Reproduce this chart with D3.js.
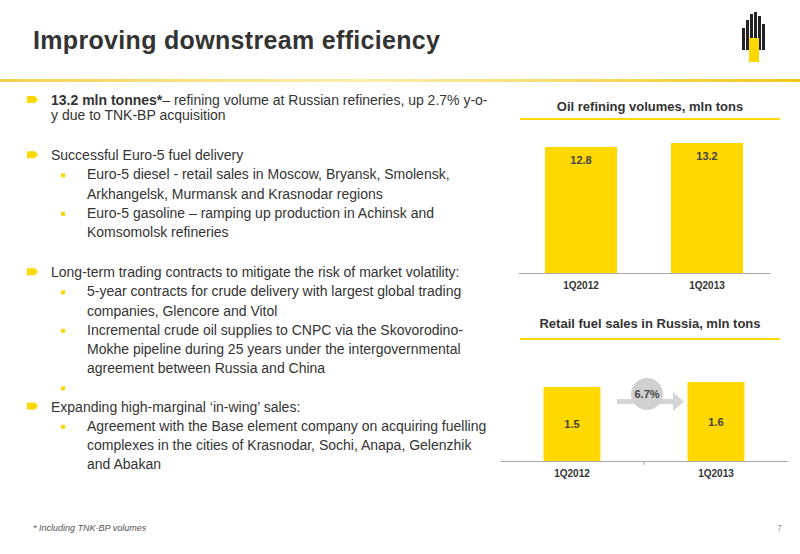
<!DOCTYPE html>
<html><head><meta charset="utf-8">
<script src="https://cdn.jsdelivr.net/npm/d3@7"></script>
<style>body{margin:0;background:#fff}svg{font-family:"Liberation Sans",Arial,sans-serif}</style>
</head><body><svg id="c" width="800" height="554"></svg>
<script>
const refCats = ['1Q2012', '1Q2013']
const refVals = [12.8, 13.2]
const retailCats = ['1Q2012', '1Q2013']
const retailVals = [1.5, 1.6]
const growth = '6.7%'

const bullets = [
  {lvl: 0, lh: 15, lines: [[{t: '13.2 mln tonnes*', b: true}, {t: '– refining volume at Russian refineries, up 2.7% y-o-'}], [{t: 'y due to TNK-BP acquisition'}]]},
  {gap: true},
  {lvl: 0, lines: [[{t: 'Successful Euro-5 fuel delivery'}]]},
  {lvl: 1, lines: [[{t: 'Euro-5 diesel  - retail sales in Moscow, Bryansk, Smolensk,'}], [{t: 'Arkhangelsk, Murmansk and Krasnodar regions'}]]},
  {lvl: 1, lines: [[{t: 'Euro-5 gasoline – ramping up production in Achinsk and'}], [{t: 'Komsomolsk refineries'}]]},
  {gap: true},
  {lvl: 0, lines: [[{t: 'Long-term trading contracts to mitigate the risk of market volatility:'}]]},
  {lvl: 1, lines: [[{t: '5-year contracts for crude delivery with largest global trading'}], [{t: 'companies, Glencore and Vitol'}]]},
  {lvl: 1, lines: [[{t: 'Incremental crude oil supplies to CNPC via the Skovorodino-'}], [{t: 'Mokhe pipeline during 25 years under the intergovernmental'}], [{t: 'agreement between Russia and China'}]]},
  {lvl: 1, lines: [[{t: ''}]]},
  {lvl: 0, lines: [[{t: 'Expanding high-marginal ‘in-wing’ sales:'}]]},
  {lvl: 1, lines: [[{t: 'Agreement with the Base element company on acquiring fuelling'}], [{t: 'complexes in the cities of Krasnodar, Sochi, Anapa, Gelenzhik'}], [{t: 'and Abakan'}]]}
]

const svg = d3.select('#c')
const yellow = '#ffd800'

// header
svg.append('text').attr('x', 33).attr('y', 49).attr('font-size', 25).attr('font-weight', 'bold')
  .attr('fill', '#333').attr('textLength', 407).text('Improving downstream efficiency')
const grad = svg.append('defs').append('linearGradient').attr('id', 'hg')
grad.append('stop').attr('offset', '0').attr('stop-color', '#f3d250')
grad.append('stop').attr('offset', '0.45').attr('stop-color', '#fbeeb0')
grad.append('stop').attr('offset', '1').attr('stop-color', '#f0c81c')
svg.append('rect').attr('x', 0).attr('y', 79).attr('width', 800).attr('height', 3).attr('fill', 'url(#hg)')

// logo
const logo = svg.append('g').attr('transform', 'translate(754,12)')
;[[-12, 16, 22], [-8, 8, 30], [-4, 2, 36], [0, 0, 40], [4, 4, 34], [8, 12, 26]].forEach(([x, y, h]) =>
  logo.append('rect').attr('x', x).attr('y', y).attr('width', 3).attr('height', h).attr('fill', '#222'))
logo.append('rect').attr('x', -5).attr('y', 26).attr('width', 10).attr('height', 24).attr('fill', yellow)

// bullets
let y = 105
bullets.forEach(b => {
  if (b.gap) { y += 21; return }
  b.lines.forEach((ln, i) => {
    const x = b.lvl ? 87 : 51
    if (i === 0) {
      if (b.lvl) svg.append('rect').attr('x', 61).attr('y', y - 6).attr('width', 4).attr('height', 4).attr('fill', yellow)
      else svg.append('path').attr('d', `M27,${y - 9}h8l3,3.5l-3,3.5h-8z`).attr('fill', yellow)
    }
    const t = svg.append('text').attr('x', x).attr('y', y).attr('font-size', 14).attr('fill', '#333')
    ln.forEach(s => t.append('tspan').attr('font-weight', s.b ? 'bold' : null).text(s.t))
    y += (i < b.lines.length - 1 && b.lh) ? b.lh : 19.2
  })
})

svg.append('text').attr('x', 33).attr('y', 531).attr('font-size', 9).attr('font-style', 'italic').attr('fill', '#555').text('* Including TNK-BP volumes')
svg.append('text').attr('x', 777).attr('y', 531).attr('font-size', 9).attr('fill', '#999').text('7')

function barChart(cats, vals, top, base, maxV, title, titleY, lineY, xr, bw, labelY) {
  svg.append('text').attr('x', 650).attr('y', titleY).attr('text-anchor', 'middle').attr('font-size', 13)
    .attr('font-weight', 'bold').attr('fill', '#333').text(title)
  svg.append('rect').attr('x', 520).attr('y', lineY).attr('width', 260).attr('height', 2).attr('fill', yellow)
  const x = d3.scaleBand().domain(cats).range(xr).padding(0)
  const yS = d3.scaleLinear().domain([0, maxV]).range([base, top])
  svg.append('g').selectAll('rect').data(vals).join('rect')
    .attr('x', (d, i) => x(cats[i]) + (x.bandwidth() - bw) / 2).attr('width', bw)
    .attr('y', d => yS(d)).attr('height', d => base - yS(d)).attr('fill', yellow)
  svg.append('g').selectAll('text').data(vals).join('text')
    .attr('x', (d, i) => x(cats[i]) + x.bandwidth() / 2)
    .attr('y', d => labelY(d, yS))
    .attr('font-size', 11).attr('font-weight', 'bold').attr('fill', '#444').attr('text-anchor', 'middle')
    .text(d => d.toFixed(1))
  const ax = svg.append('g').attr('transform', `translate(0,${base})`).call(d3.axisBottom(x).tickSize(0).tickPadding(9))
  ax.select('.domain').attr('stroke', '#aaa')
  ax.selectAll('text').attr('font-size', 10).attr('font-weight', 'bold').attr('fill', '#333').attr('font-family', '"Liberation Sans",Arial,sans-serif')
}

barChart(refCats, refVals, 143, 273, 13.2, 'Oil refining volumes, mln tons', 111, 118, [518, 770], 72, (d, s) => s(d) + 17)
barChart(retailCats, retailVals, 382, 461, 1.6, 'Retail fuel sales in Russia, mln tons', 328, 338, [500, 788], 57, (d, s) => (s(d) + 461) / 2 + 4)
svg.append('line').attr('x1', 644).attr('x2', 644).attr('y1', 461).attr('y2', 465).attr('stroke', '#aaa')

// growth marker
svg.append('path').attr('d', 'M617,399h56v-7l11,9.5l-11,9.5v-7h-56z').attr('fill', '#d5d5d5')
svg.append('circle').attr('cx', 647).attr('cy', 394).attr('r', 16).attr('fill', '#d0d0d0')
svg.append('text').attr('x', 647).attr('y', 398).attr('text-anchor', 'middle').attr('font-size', 11)
  .attr('font-weight', 'bold').attr('fill', '#444').text(growth)
</script></body></html>
